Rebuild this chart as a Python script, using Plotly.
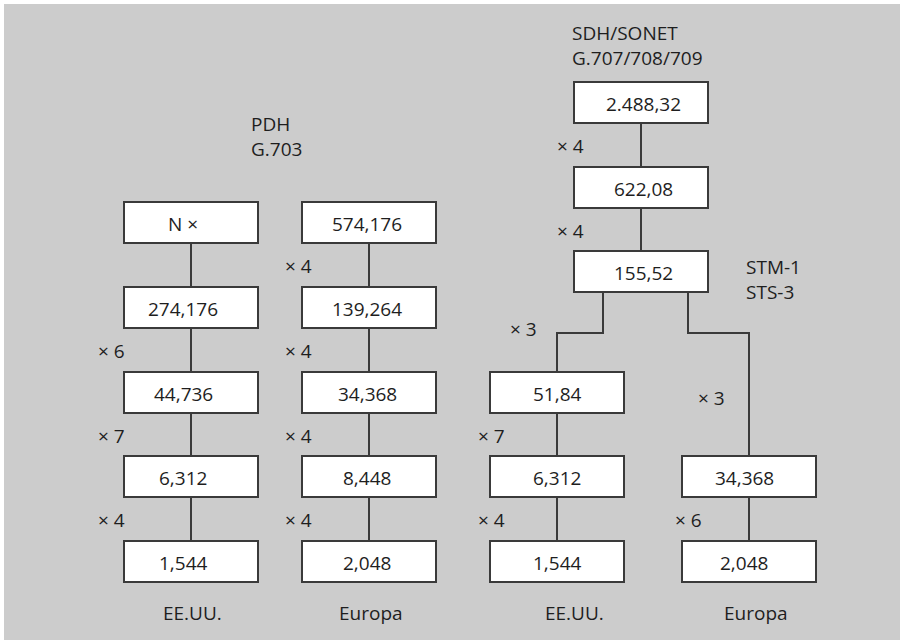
import plotly.graph_objects as go

# node labels (Mbit/s), top to bottom in each column
pdh_us_rates = ["N ×", "274,176", "44,736", "6,312", "1,544"]
pdh_eu_rates = ["574,176", "139,264", "34,368", "8,448", "2,048"]
sdh_rates = ["2.488,32", "622,08", "155,52"]
sdh_us_rates = ["51,84", "6,312", "1,544"]
sdh_eu_rates = ["34,368", "2,048"]

# multiplexing factors between consecutive boxes
pdh_us_mult = ["", "× 6", "× 7", "× 4"]
pdh_eu_mult = ["× 4", "× 4", "× 4", "× 4"]
sdh_mult = ["× 4", "× 4"]
sdh_us_mult = ["× 7", "× 4"]
sdh_eu_mult = ["× 6"]
branch_mult = ["× 3", "× 3"]

headers = ["PDH<br>G.703", "SDH/SONET<br>G.707/708/709", "STM-1<br>STS-3"]
regions = ["EE.UU.", "Europa", "EE.UU.", "Europa"]

# layout (pixels)
BOX_W, BOX_H = 134, 41
pdh_tops = [202, 287, 372, 456, 541]
sdh_tops = [82, 167, 251]
FONT = "Open Sans, Lato, sans-serif"
FS = 19
TXT = "#1e1e1e"
LINE = "#3a3a3a"

fig = go.Figure()
shapes = []
annotations = []


def line(xs, ys):
    fig.add_trace(go.Scatter(x=xs, y=ys, mode="lines", hoverinfo="skip",
                             line=dict(color=LINE, width=2), showlegend=False))


def column(cx, tops, rates, mults, lab_x, text_dx=0):
    for i, (top, r) in enumerate(zip(tops, rates)):
        shapes.append(dict(type="rect", xref="x", yref="y",
                           x0=cx - BOX_W / 2, x1=cx + BOX_W / 2, y0=top, y1=top + BOX_H,
                           line=dict(color=LINE, width=2), fillcolor="white", layer="above"))
        annotations.append(dict(x=cx + text_dx, y=top + BOX_H / 2 + 1, text=r, showarrow=False,
                                xanchor="center", yanchor="middle",
                                font=dict(size=FS, color=TXT, family=FONT)))
        if i < len(tops) - 1:
            line([cx, cx], [top + BOX_H, tops[i + 1]])
            m = mults[i]
            if m:
                annotations.append(dict(x=lab_x, y=(top + BOX_H + tops[i + 1]) / 2 + 1, text=m,
                                        showarrow=False, xanchor="left", yanchor="middle",
                                        font=dict(size=FS, color=TXT, family=FONT)))


column(191, pdh_tops, pdh_us_rates, pdh_us_mult, 96, -8)
column(369, pdh_tops, pdh_eu_rates, pdh_eu_mult, 283, -2)
column(641, sdh_tops, sdh_rates, sdh_mult, 555, 2)
column(557, pdh_tops[2:], sdh_us_rates, sdh_us_mult, 476, 0)
column(749, pdh_tops[3:], sdh_eu_rates, sdh_eu_mult, 673, -5)

# branches from 155,52
split_y = 333
line([603, 603, 557, 557], [sdh_tops[2] + BOX_H, split_y, split_y, pdh_tops[2]])
line([688, 688, 749, 749], [sdh_tops[2] + BOX_H, split_y, split_y, pdh_tops[3]])

for (x, y), m in zip([(508, 329), (696, 398)], branch_mult):
    annotations.append(dict(x=x, y=y, text=m, showarrow=False, xanchor="left", yanchor="middle",
                            font=dict(size=FS, color=TXT, family=FONT)))

for (x, y), h in zip([(249, 136), (570, 45), (744, 279)], headers):
    annotations.append(dict(x=x, y=y, text=h, showarrow=False, xanchor="left", yanchor="middle",
                            align="left", font=dict(size=FS, color=TXT, family=FONT)))

for x, r in zip([192, 371, 574, 756], regions):
    annotations.append(dict(x=x, y=613, text=r, showarrow=False, xanchor="center", yanchor="middle",
                            font=dict(size=FS, color=TXT, family=FONT)))

fig.update_layout(
    width=900, height=640,
    margin=dict(l=4, r=0, t=4, b=0),
    paper_bgcolor="white", plot_bgcolor="#cccccc",
    xaxis=dict(range=[4, 900], visible=False, fixedrange=True),
    yaxis=dict(range=[640, 4], visible=False, fixedrange=True),
    shapes=shapes, annotations=annotations,
)

fig.write_html("out.html", config={"displayModeBar": False},
               post_script="document.body.style.margin='0';")
